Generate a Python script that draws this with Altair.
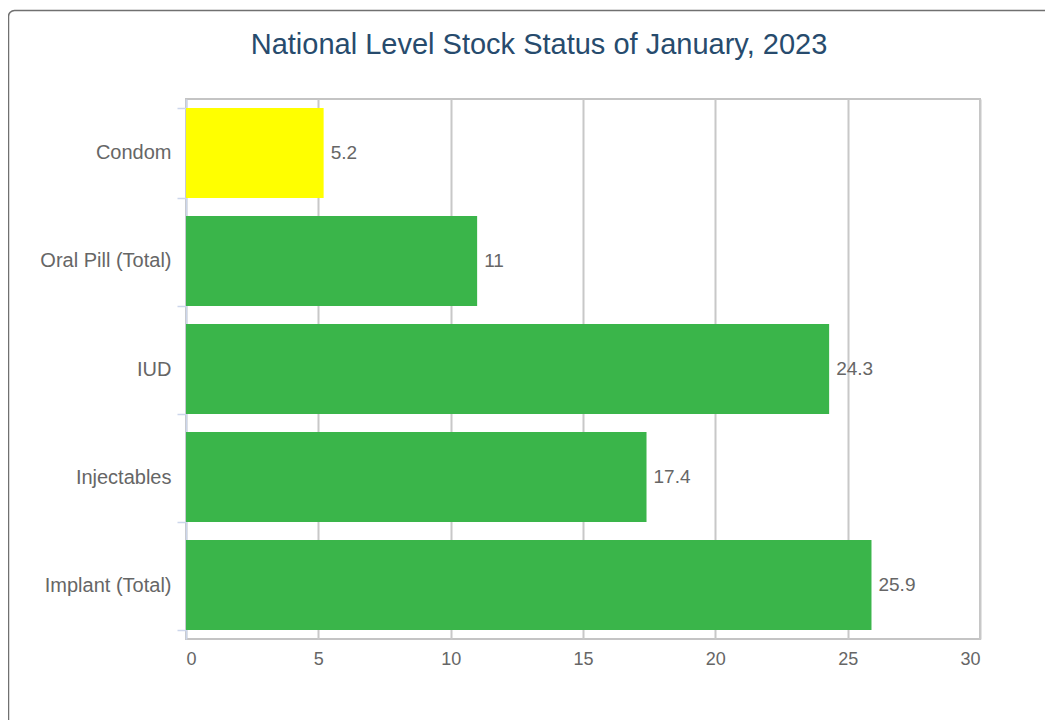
import altair as alt
import pandas as pd

categories = ["Condom", "Oral Pill (Total)", "IUD", "Injectables", "Implant (Total)"]
values = [5.2, 11, 24.3, 17.4, 25.9]
value_labels = ["5.2", "11", "24.3", "17.4", "25.9"]
bar_colors = ["#FFFF00", "#3AB54A", "#3AB54A", "#3AB54A", "#3AB54A"]
x_ticks = [0, 5, 10, 15, 20, 25, 30]
title_text = "National Level Stock Status of January, 2023"

FONT = "Liberation Sans"

df = pd.DataFrame({"cat": categories, "val": values, "label": value_labels, "color": bar_colors})

y_enc = alt.Y(
    "cat:N",
    sort=categories,
    scale=alt.Scale(paddingInner=0.167, paddingOuter=0.083),
    axis=alt.Axis(
        title=None,
        domainColor="#ccd6eb",
        domainWidth=1.5,
        tickBand="extent",
        tickColor="#ccd6eb",
        tickSize=9,
        tickWidth=1.5,
        labelPadding=6,
        labelFontSize=20,
        labelColor="#666666",
        labelFont=FONT,
        grid=False,
    ),
)
x_enc = alt.X(
    "val:Q",
    scale=alt.Scale(domain=[0, 30], nice=False),
    axis=alt.Axis(
        title=None,
        values=x_ticks,
        domain=False,
        ticks=False,
        grid=True,
        gridColor="#c8c8c8",
        gridWidth=2,
        labelPadding=11,
        labelFlush=True,
        labelFontSize=18,
        labelColor="#666666",
        labelFont=FONT,
    ),
)

one = pd.DataFrame({"t": [title_text]})

frame = alt.Chart(one).mark_rect(
    fill="transparent", stroke="#707070", strokeWidth=1.5, cornerRadius=6
).encode(
    x=alt.value(-177.5), y=alt.value(-88.5), x2=alt.value(1100), y2=alt.value(800)
)

title = alt.Chart(one).mark_text(
    align="center", baseline="alphabetic", fontSize=29, color="#274b6d", font=FONT
).encode(x=alt.value(353), y=alt.value(-45), text="t:N")

base = alt.Chart(df)
bars = base.mark_bar().encode(x=x_enc, y=y_enc, color=alt.Color("color:N", scale=None))
text = base.mark_text(
    align="left", baseline="middle", dx=7, fontSize=19, color="#666666", font=FONT
).encode(x="val:Q", y=alt.Y("cat:N", sort=categories), text="label:N")

chart = alt.layer(frame, title, bars, text).properties(
    width=794,
    height=540,
    padding={"left": 178, "top": 91, "right": 65, "bottom": 81},
    autosize="none",
).configure_view(stroke="#c4c4c4", strokeWidth=2)

chart.save("out.html", embed_options={"renderer": "svg", "actions": False})
